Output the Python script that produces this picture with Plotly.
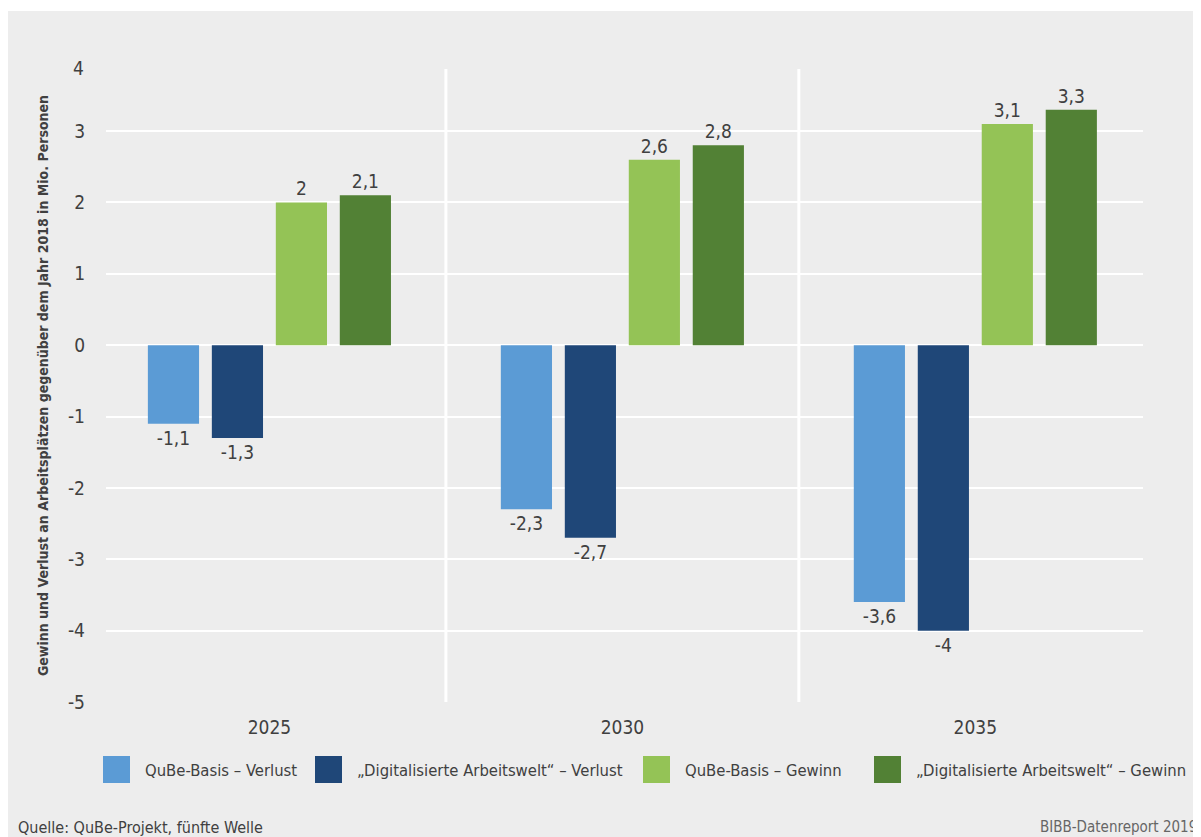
import plotly.graph_objects as go

years = ["2025", "2030", "2035"]
series_names = [
    "QuBe-Basis – Verlust",
    "„Digitalisierte Arbeitswelt“ – Verlust",
    "QuBe-Basis – Gewinn",
    "„Digitalisierte Arbeitswelt“ – Gewinn",
]
qube_verlust = [-1.1, -2.3, -3.6]
digi_verlust = [-1.3, -2.7, -4.0]
qube_gewinn = [2.0, 2.6, 3.1]
digi_gewinn = [2.1, 2.8, 3.3]
y_ticks = [-5, -4, -3, -2, -1, 0, 1, 2, 3, 4]

colors = ["#5b9bd5", "#1f4778", "#94c356", "#528135"]
series_values = [qube_verlust, digi_verlust, qube_gewinn, digi_gewinn]

FONT = "DejaVu Sans Condensed, Liberation Sans Narrow, Arial Narrow, sans-serif"
TXT = "#404040"

OFF = 8  # page body margin
W, H = 1201 - OFF, 837 - OFF
# plot area in screen pixels: x 106..1143, y 69..702
ML, MR, MT, MB = 106 - OFF, W - (1143 - OFF), 69 - OFF, H - (702 - OFF)
PW, PH = W - ML - MR, H - MT - MB


def px(x):
    return (x - OFF - ML) / PW


def py(y):
    return (H - MB - (y - OFF)) / PH


def fmt(v):
    return f"{v:g}".replace(".", ",")


fig = go.Figure()
for name, vals, col in zip(series_names, series_values, colors):
    fig.add_trace(go.Bar(
        x=years, y=vals, name=name,
        marker=dict(color=col, line=dict(width=0)),
        text=[fmt(v) for v in vals], textposition="outside",
        textfont=dict(family=FONT, size=19, color=TXT),
        cliponaxis=False, showlegend=False,
    ))

shapes = [
    dict(type="rect", xref="paper", yref="paper", x0=px(8), x1=px(1215), y0=py(850), y1=py(11),
         fillcolor="#ededed", line=dict(width=0), layer="below"),
    dict(type="line", xref="x", yref="paper", x0=0.5, x1=0.5, y0=0, y1=1, line=dict(color="white", width=3)),
    dict(type="line", xref="x", yref="paper", x0=1.5, x1=1.5, y0=0, y1=1, line=dict(color="white", width=3)),
]

annotations = [
    dict(text="4", xref="paper", yref="paper", x=px(86), y=py(68), xanchor="right", yanchor="middle",
         showarrow=False, font=dict(family=FONT, size=19, color=TXT)),
    dict(text="Quelle: QuBe-Projekt, fünfte Welle", xref="paper", yref="paper", x=px(16), y=py(827),
         xanchor="left", yanchor="middle", showarrow=False, font=dict(family=FONT, size=16, color=TXT)),
    dict(text="BIBB-Datenreport 2019", xref="paper", yref="paper", x=px(1199), y=py(827),
         xanchor="right", yanchor="middle", showarrow=False, font=dict(family=FONT, size=15, color="#666666")),
]

legend_x = [103, 315, 643, 874]
for lx, name, col in zip(legend_x, series_names, colors):
    shapes.append(dict(type="rect", xref="paper", yref="paper", x0=px(lx), x1=px(lx + 27),
                       y0=py(783), y1=py(756), fillcolor=col, line=dict(width=0)))
    annotations.append(dict(text=name, xref="paper", yref="paper", x=px(lx + 40), y=py(770),
                            xanchor="left", yanchor="middle", showarrow=False,
                            font=dict(family=FONT, size=16.5, color=TXT)))

fig.update_layout(
    width=W, height=H,
    margin=dict(l=ML, r=MR, t=MT, b=MB, pad=0),
    paper_bgcolor="white", plot_bgcolor="#d9d9d9",
    barmode="group", bargap=0.275, bargroupgap=0.2,
    font=dict(family=FONT, size=19, color=TXT),
    shapes=shapes, annotations=annotations,
    showlegend=False,
)
fig.update_xaxes(range=[-0.463, 2.475], showgrid=False, zeroline=False, showline=False, ticks="",
                 tickfont=dict(family=FONT, size=19, color=TXT), ticklabelstandoff=12)
fig.update_yaxes(range=[-5, 3.87], tickvals=y_ticks, ticktext=[str(t) for t in y_ticks],
                 showgrid=True, gridcolor="white", gridwidth=1.5,
                 zeroline=True, zerolinecolor="white", zerolinewidth=1.5,
                 showline=False, ticks="", tickfont=dict(family=FONT, size=19, color=TXT),
                 ticklabelstandoff=20,
                 title=dict(text="<b>Gewinn und Verlust an Arbeitsplätzen gegenüber dem Jahr 2018 in Mio. Personen</b>",
                            font=dict(family=FONT, size=14, color=TXT), standoff=16))

fig.write_html("out.html")
